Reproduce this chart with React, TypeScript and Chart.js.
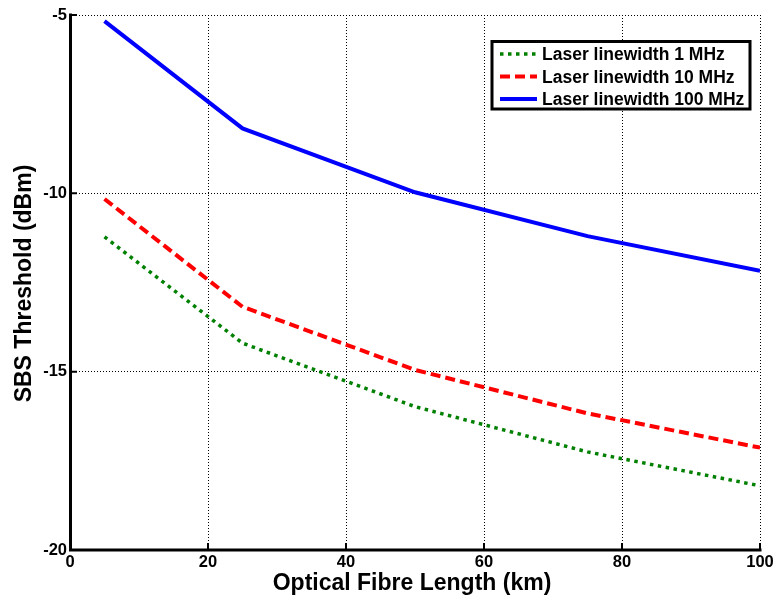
import { useEffect, useRef } from "react";
import { Chart, registerables } from "chart.js";

Chart.register(...registerables);

// Fibre lengths (km) at which the threshold was evaluated
const fibreLengthKm = [5, 25, 50, 75, 100];
// SBS threshold (dBm) for each laser linewidth
const threshold1MHz = [-11.22, -14.2, -15.98, -17.25, -18.2];
const threshold10MHz = [-10.16, -13.18, -14.95, -16.17, -17.13];
const threshold100MHz = [-5.17, -8.18, -9.97, -11.2, -12.17];

const seriesLabels = [
  "Laser linewidth 1 MHz",
  "Laser linewidth 10 MHz",
  "Laser linewidth 100 MHz",
];
const seriesColors = ["#008000", "#ff0000", "#0000ff"];

const xTicks = [0, 20, 40, 60, 80, 100];
const yTicks = [-20, -15, -10, -5];
const xTitle = "Optical Fibre Length (km)";
const yTitle = "SBS Threshold (dBm)";

const FONT = '"Liberation Sans", Arial, Helvetica, sans-serif';

const lineStyles = [
  { width: 3.5, dash: [3.5, 4.5] },
  { width: 4, dash: [10, 5] },
  { width: 4, dash: [] as number[] },
];

const toPoints = (ys: number[]) => fibreLengthKm.map((x, i) => ({ x, y: ys[i] }));

// Draws the solid axes with inward ticks, the axis titles and the boxed legend
const decorations = {
  id: "decorations",
  afterDatasetsDraw(chart: any) {
    const { ctx, chartArea, scales } = chart;
    const { left, right, top, bottom } = chartArea;
    const xs = scales.x;
    const ys = scales.y;

    ctx.save();
    ctx.strokeStyle = "#000";
    ctx.setLineDash([]);

    // inward tick marks
    ctx.lineWidth = 2;
    ctx.beginPath();
    for (const v of yTicks) {
      const py = ys.getPixelForValue(v);
      ctx.moveTo(left, py);
      ctx.lineTo(left + 7, py);
    }
    for (const v of xTicks) {
      const px = xs.getPixelForValue(v);
      ctx.moveTo(px, bottom);
      ctx.lineTo(px, bottom - 7);
    }
    ctx.stroke();

    // axis lines
    ctx.lineWidth = 3;
    ctx.lineCap = "square";
    ctx.beginPath();
    ctx.moveTo(left + 0.5, top);
    ctx.lineTo(left + 0.5, bottom);
    ctx.lineTo(right, bottom);
    ctx.stroke();
    ctx.lineCap = "butt";

    // axis titles
    ctx.fillStyle = "#000";
    ctx.font = `bold 23px ${FONT}`;
    ctx.textAlign = "center";
    ctx.textBaseline = "alphabetic";
    ctx.fillText(xTitle, (left + right) / 2 - 3, bottom + 40);
    ctx.save();
    ctx.translate(31, (top + bottom) / 2 + 1);
    ctx.rotate(-Math.PI / 2);
    ctx.fillText(yTitle, 0, 0);
    ctx.restore();

    // legend
    const bx = right - 268;
    const by = top + 26.5;
    const bw = 258;
    const bh = 67.5;
    ctx.fillStyle = "#fff";
    ctx.fillRect(bx, by, bw, bh);
    ctx.lineWidth = 3;
    ctx.strokeStyle = "#000";
    ctx.strokeRect(bx, by, bw, bh);

    ctx.font = `bold 17.5px ${FONT}`;
    ctx.textAlign = "left";
    ctx.textBaseline = "alphabetic";
    chart.data.datasets.forEach((ds: any, i: number) => {
      const base = by + 18.5 + i * 22.5;
      const ly = base - 6;
      ctx.strokeStyle = ds.borderColor;
      ctx.lineWidth = lineStyles[i].width;
      ctx.setLineDash(lineStyles[i].dash);
      ctx.beginPath();
      ctx.moveTo(bx + 8, ly);
      ctx.lineTo(bx + 45, ly);
      ctx.stroke();
      ctx.setLineDash([]);
      ctx.fillStyle = "#000";
      ctx.fillText(ds.label, bx + 50, base);
    });
    ctx.restore();
  },
};

export default function App() {
  const canvasRef = useRef<HTMLCanvasElement | null>(null);

  useEffect(() => {
    const canvas = canvasRef.current;
    if (!canvas) return;
    const seriesValues = [threshold1MHz, threshold10MHz, threshold100MHz];

    const tickFont = { family: FONT, size: 16.5, weight: "bold" as const };

    const chart = new Chart(canvas, {
      type: "line",
      data: {
        datasets: seriesValues.map((vals, i) => ({
          label: seriesLabels[i],
          data: toPoints(vals),
          borderColor: seriesColors[i],
          backgroundColor: seriesColors[i],
          borderWidth: lineStyles[i].width,
          borderDash: lineStyles[i].dash,
          pointRadius: 0,
          tension: 0,
          fill: false,
        })),
      },
      options: {
        animation: false,
        responsive: false,
        devicePixelRatio: 1,
        events: [],
        layout: { padding: { left: 0, top: 15, right: 14, bottom: 0 } },
        plugins: {
          legend: { display: false },
          tooltip: { enabled: false },
          title: { display: false },
        },
        scales: {
          x: {
            type: "linear",
            min: 0,
            max: 100,
            afterBuildTicks: (s: any) => {
              s.ticks = xTicks.map((v) => ({ value: v }));
            },
            afterFit: (s: any) => {
              s.height = 51;
              s.paddingLeft = 0;
              s.paddingRight = 0;
            },
            grid: { color: "#000", lineWidth: 1, drawTicks: false },
            border: { display: false, dash: [1, 2] },
            ticks: {
              font: tickFont,
              color: "#000",
              padding: 3,
              maxRotation: 0,
              autoSkip: false,
            },
          },
          y: {
            type: "linear",
            min: -20,
            max: -5,
            afterBuildTicks: (s: any) => {
              s.ticks = yTicks.map((v) => ({ value: v }));
            },
            afterFit: (s: any) => {
              s.width = 70;
              s.paddingTop = 0;
              s.paddingBottom = 0;
            },
            grid: { color: "#000", lineWidth: 1, drawTicks: false },
            border: { display: false, dash: [1, 2] },
            ticks: {
              font: tickFont,
              color: "#000",
              padding: 3,
              autoSkip: false,
            },
          },
        },
      },
      plugins: [decorations],
    });

    return () => chart.destroy();
  }, []);

  return (
    <div
      style={{
        position: "fixed",
        left: 0,
        top: 0,
        width: 774,
        height: 601,
        background: "#fff",
      }}
    >
      <canvas ref={canvasRef} width={774} height={601} />
    </div>
  );
}
